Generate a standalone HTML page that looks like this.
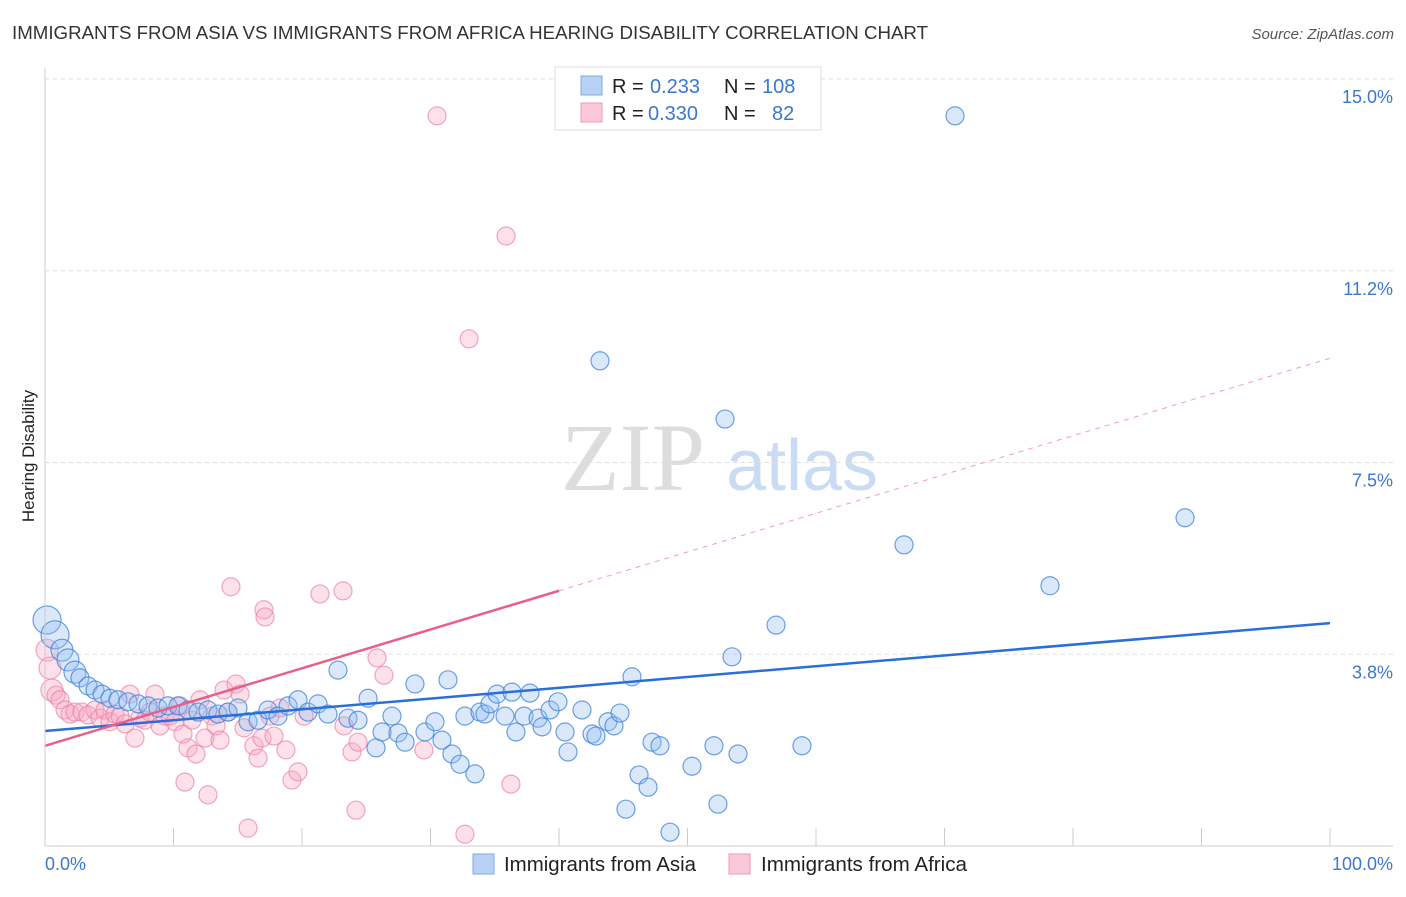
<!DOCTYPE html>
<html><head><meta charset="utf-8"><style>
body{margin:0;background:#fff;font-family:"Liberation Sans",sans-serif}
svg text{font-family:"Liberation Sans",sans-serif}
</style></head><body>
<svg id="chart" width="1406" height="892">
<text x="12" y="39" font-size="18" fill="#333" textLength="916" lengthAdjust="spacingAndGlyphs">IMMIGRANTS FROM ASIA VS IMMIGRANTS FROM AFRICA HEARING DISABILITY CORRELATION CHART</text>
<text x="1394" y="39" font-size="15" fill="#555" font-style="italic" text-anchor="end">Source: ZipAtlas.com</text>
<text x="34" y="456" font-size="17" fill="#222" text-anchor="middle" transform="rotate(-90 34 456)">Hearing Disability</text>
<g><text x="633" y="490" font-size="96" fill="#ddd" text-anchor="middle" style="font-family:'Liberation Serif',serif">ZIP</text><text x="802" y="490" font-size="72" fill="#c9dcf3" text-anchor="middle">atlas</text></g>
<g id="grid"></g><g id="pts"></g><g id="lines"></g>
<line x1="45" y1="68" x2="45" y2="846" stroke="#ccc"/>
<line x1="45" y1="846" x2="1393" y2="846" stroke="#ccc"/>
<text x="45" y="870" font-size="18" fill="#3a78d0">0.0%</text>
<text x="1393" y="870" font-size="18" fill="#3a78d0" text-anchor="end">100.0%</text>
<g>
<rect x="555" y="67" width="266" height="63" fill="#fff" stroke="#ddd"/>
<rect x="581" y="76" width="21" height="19" fill="#b7d2f4" stroke="#7fa8e0"/>
<rect x="581" y="103" width="21" height="19" fill="#fac8d7" stroke="#ec9ab4"/>
<text y="93" font-size="20" fill="#222"><tspan x="612">R =</tspan><tspan x="650" fill="#3a78d0">0.233</tspan><tspan x="724">N =</tspan><tspan x="762" fill="#3a78d0">108</tspan></text>
<text y="120" font-size="20" fill="#222"><tspan x="612">R =</tspan><tspan x="648" fill="#3a78d0">0.330</tspan><tspan x="724">N =</tspan><tspan x="772" fill="#3a78d0">82</tspan></text>
</g>
<g><rect x="473" y="854" width="21" height="20" fill="#b7d2f4" stroke="#7fa8e0"/><text x="504" y="871" font-size="20" fill="#222" textLength="192" lengthAdjust="spacingAndGlyphs">Immigrants from Asia</text></g>
<g><rect x="729" y="854" width="21" height="20" fill="#fac8d7" stroke="#ec9ab4"/><text x="761" y="871" font-size="20" fill="#222" textLength="206" lengthAdjust="spacingAndGlyphs">Immigrants from Africa</text></g>
</svg>
<script>
const yTicks=[3.75,7.5,11.25,15];
const yTickLabels=["3.8%","7.5%","11.2%","15.0%"];
const xTicks=[0,10,20,30,40,50,60,70,80,90,100];
const asiaX=[0.16,0.78,1.32,1.79,2.33,2.72,3.35,3.89,4.44,5.06,5.68,6.46,7.24,8.02,8.79,9.57,10.35,11.13,11.91,12.68,13.46,14.24,15.02,15.8,16.58,17.35,18.13,18.91,19.69,20.47,21.25,22.02,22.8,23.58,24.36,25.14,25.76,26.23,27,27.47,28.02,28.79,29.57,30.35,30.89,31.36,31.67,32.3,32.68,33.46,33.85,34.24,34.63,35.18,35.8,36.34,36.65,37.28,37.74,38.37,38.68,39.3,39.92,40.47,40.7,41.79,42.57,42.88,43.19,43.81,44.28,44.75,45.21,45.68,46.23,46.93,47.24,47.86,48.64,50.35,52.06,52.37,52.92,53.46,53.93,56.89,58.91,66.85,70.82,78.21,88.72];
const asiaY=[4.42,4.13,3.83,3.64,3.4,3.29,3.13,3.05,2.97,2.89,2.86,2.82,2.78,2.74,2.7,2.74,2.74,2.66,2.62,2.66,2.58,2.62,2.7,2.43,2.46,2.66,2.54,2.74,2.86,2.62,2.78,2.58,3.44,2.5,2.46,2.89,1.92,2.23,2.54,2.21,2.03,3.17,2.23,2.43,2.07,3.25,1.8,1.6,2.54,1.41,2.62,2.58,2.78,2.97,2.54,3.01,2.23,2.54,2.99,2.5,2.33,2.66,2.82,2.23,1.84,2.66,2.19,2.15,9.49,2.43,2.35,2.6,0.72,3.31,1.39,1.15,2.03,1.96,0.27,1.56,1.96,0.82,8.35,3.7,1.8,4.32,1.96,5.89,14.28,5.09,6.42];
const africaX=[0.16,0.39,0.54,0.86,1.17,1.56,1.95,2.33,2.88,3.35,3.89,4.28,4.67,5.06,5.45,5.84,6.23,6.61,7,7.39,7.78,8.17,8.56,8.95,9.34,9.73,10.12,10.51,10.74,10.89,11.13,11.44,11.75,12.06,12.45,12.68,13,13.31,13.62,13.93,14.24,14.47,14.86,15.18,15.49,15.8,16.26,16.58,16.89,17.04,17.12,17.51,17.82,18.29,18.75,19.22,19.69,20.16,21.4,23.19,23.27,23.89,24.2,24.36,25.84,26.38,29.49,30.51,32.68,33,35.88,36.26];
const africaY=[3.83,3.48,3.05,2.95,2.86,2.66,2.58,2.62,2.62,2.56,2.66,2.5,2.66,2.43,2.58,2.54,2.39,2.97,2.11,2.5,2.46,2.62,2.97,2.35,2.54,2.54,2.43,2.74,2.19,1.25,1.92,2.46,1.8,2.86,2.11,1,2.54,2.35,2.07,3.05,2.62,5.07,3.17,2.97,2.31,0.35,1.96,1.72,2.11,4.62,4.48,2.54,2.15,2.7,1.88,1.29,1.45,2.54,4.93,4.99,2.35,1.84,0.7,2.03,3.68,3.34,1.88,14.28,0.23,9.92,11.93,1.21];
const asiaTrend=[2.25,4.36];
const africaTrend=[1.96,9.54];
const africaSolidEnd=40;
const NS="http://www.w3.org/2000/svg";
const sx=v=>45+v*12.85, sy=v=>846-v*51.13;
function mk(t,a,p){const e=document.createElementNS(NS,t);for(const k in a)e.setAttribute(k,a[k]);p.appendChild(e);return e;}
const grid=document.getElementById('grid');
yTicks.forEach((t,i)=>{
 const l=mk('line',{x1:45,x2:1393,y1:sy(t),y2:sy(t),stroke:'#ddd','stroke-dasharray':'4,4'},grid);
 
 
 const tx=mk('text',{x:1393,y:sy(t)+24,'font-size':18,fill:'#3a78d0','text-anchor':'end'},grid);
 tx.textContent=yTickLabels[i];
 
 
});
xTicks.forEach(t=>{
 const l=mk('line',{x1:sx(t),x2:sx(t),y1:828,y2:846,stroke:'#ccc'},grid);
 
 
});
const pts=document.getElementById('pts');
africaX.forEach((x,i)=>{
 const c=mk('circle',{cx:sx(x),cy:sy(africaY[i]),r:i<3?11:9,fill:'rgba(247,170,195,0.35)',stroke:'rgba(236,130,165,0.7)','stroke-width':1.2},pts);
 
 
});
asiaX.forEach((x,i)=>{
 const c=mk('circle',{cx:sx(x),cy:sy(asiaY[i]),r:i<2?14:i<5?11:9,fill:'rgba(150,190,240,0.35)',stroke:'rgba(60,130,220,0.75)','stroke-width':1.2},pts);
 
 
});
const lines=document.getElementById('lines');
const bl=mk('line',{x1:sx(0),y1:sy(asiaTrend[0]),x2:sx(100),y2:sy(asiaTrend[1]),stroke:'#2a6fd6','stroke-width':2.5},lines);


const pe=africaTrend[0]+(africaTrend[1]-africaTrend[0])*africaSolidEnd/100;
const pl=mk('line',{x1:sx(0),y1:sy(africaTrend[0]),x2:sx(africaSolidEnd),y2:sy(pe),stroke:'#e8608a','stroke-width':2.5},lines);


const pd=mk('line',{x1:sx(africaSolidEnd),y1:sy(pe),x2:sx(100),y2:sy(africaTrend[1]),stroke:'#eea0b8','stroke-width':1,'stroke-dasharray':'5,5'},lines);


</script>
</body></html>
